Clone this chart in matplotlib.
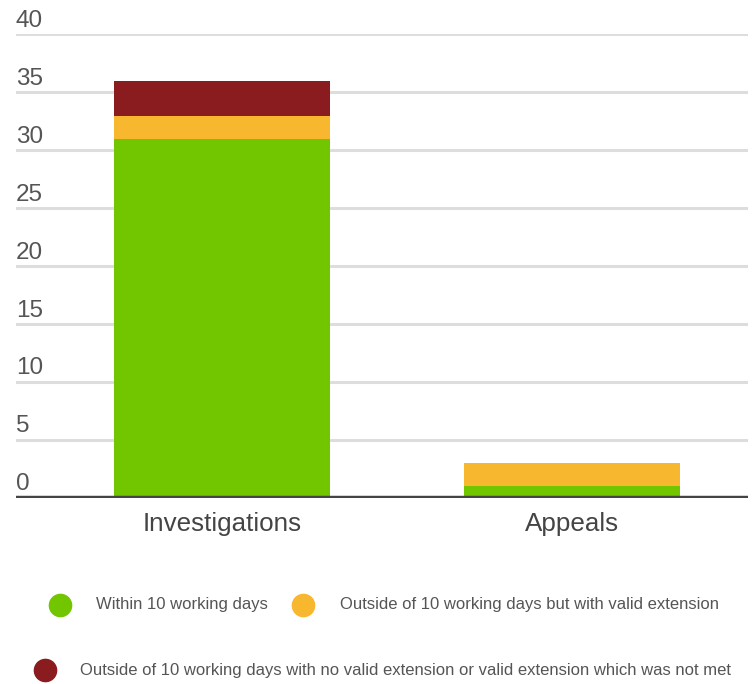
import matplotlib.pyplot as plt
import numpy as np
from matplotlib.lines import Line2D

plt.rcParams['font.family'] = ['Liberation Sans', 'DejaVu Sans']

# Data
categories = ["Investigations", "Appeals"]
within = [31, 1]
with_ext = [2, 2]
not_met = [3, 0]
series_labels = [
    "Within 10 working days",
    "Outside of 10 working days but with valid extension",
    "Outside of 10 working days with no valid extension or valid extension which was not met",
]
colors = ["#72C600", "#F7B72E", "#8A1B1E"]
yticks = [0, 5, 10, 15, 20, 25, 30, 35, 40]

W, H = 756, 684
fig = plt.figure(figsize=(W / 100, H / 100), dpi=100)
ax = fig.add_axes([16 / W, 186 / H, 732 / W, 463.5 / H])

x = np.arange(len(categories))
bottom = np.zeros(len(categories))
for vals, c in zip([within, with_ext, not_met], colors):
    ax.bar(x, vals, bottom=bottom, width=0.617, color=c, zorder=3)
    bottom += np.array(vals)

ax.set_xlim(-0.589, 1.503)
ax.set_ylim(0, 40)

# gridlines + y labels above the lines
for v in yticks:
    if v > 0:
        ax.axhline(v, color="#DDDDDD", lw=2.2, zorder=1)
    ax.annotate(str(v), xy=(0, v), xycoords=("axes fraction", "data"),
                xytext=(0, 5.5), textcoords="offset points",
                ha="left", va="baseline", fontsize=17.5, color="#555555")
ax.axhline(0, color="#444444", lw=3.2, zorder=4)

ax.set_yticks([])
ax.set_xticks(x)
ax.set_xticklabels(categories, fontsize=18.7, color="#444444")
ax.tick_params(axis="x", length=0, pad=10)
for s in ax.spines.values():
    s.set_visible(False)

# legend laid out by hand in pixel positions
legend_pos = [(60, 605, 96), (303, 605, 340), (45, 670, 80)]
for (cx, cy, tx), lab, c in zip(legend_pos, series_labels, colors):
    fig.add_artist(Line2D([cx / W], [1 - cy / H], marker="o", markersize=16,
                          color=c, linestyle="none", transform=fig.transFigure))
    fig.text(tx / W, 1 - cy / H, lab, fontsize=12, color="#555555",
             ha="left", va="center")

fig.savefig("out.png", dpi=100)
